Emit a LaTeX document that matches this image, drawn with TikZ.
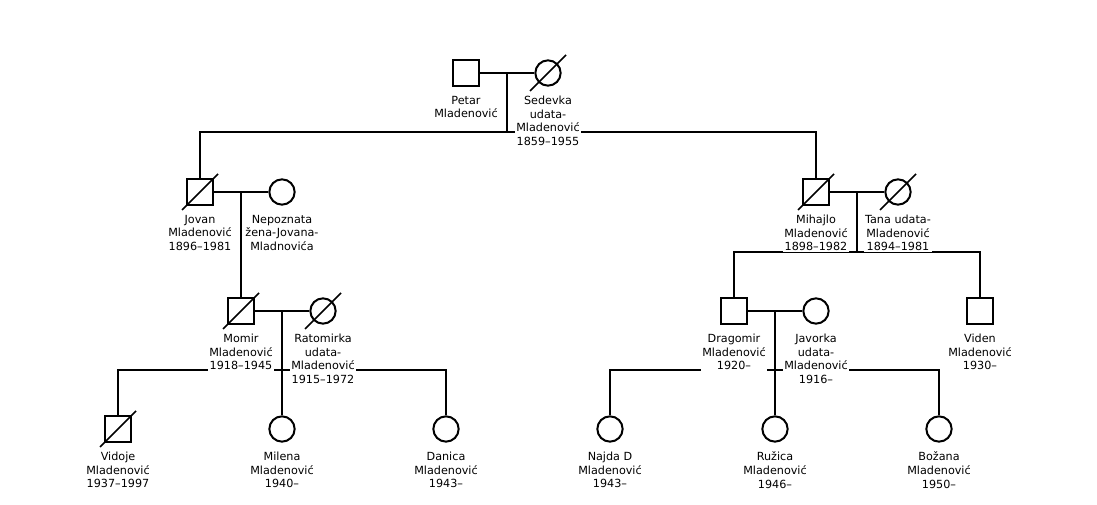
\documentclass[tikz,border=0pt]{standalone}
\usepackage{fontspec}
\setmainfont{DejaVu Sans}
\usetikzlibrary{positioning,backgrounds,calc}

\tikzset{
  male/.style={draw, rectangle, minimum size=19pt, inner sep=0pt, line width=1.5pt},
  female/.style={draw, circle, minimum size=19pt, inner sep=0pt, line width=1.5pt},
  who/.style={font=\fontsize{8.4}{10.2}\selectfont, align=center, fill=white, inner sep=1pt},
  line/.style={line width=1.5pt},
  rip/.style={line width=1.3pt},
}

\begin{document}
\begin{tikzpicture}[x=0.75pt,y=-0.75pt]
\useasboundingbox (0,0) rectangle (1097,505);

% generation 1
\node[male] (petar) at (466,73) {};
\node[female] (sedevka) at (548,73) {};
\node[who, below=5.8pt of petar] (petarL) {Petar\\Mladenović};
\node[who, below=5.8pt of sedevka] (sedevkaL) {Sedevka\\udata-\\Mladenović\\1859–1955};

% generation 2
\node[male] (jovan) at (200,192) {};
\node[female] (nepoznata) at (282,192) {};
\node[male] (mihajlo) at (816,192) {};
\node[female] (tana) at (898,192) {};
\node[who, below=5.8pt of jovan] (jovanL) {Jovan\\Mladenović\\1896–1981};
\node[who, below=5.8pt of nepoznata] (nepoznataL) {Nepoznata\\žena-Jovana-\\Mladnovića};
\node[who, below=5.8pt of mihajlo] (mihajloL) {Mihajlo\\Mladenović\\1898–1982};
\node[who, below=5.8pt of tana] (tanaL) {Tana udata-\\Mladenović\\1894–1981};

% generation 3
\node[male] (momir) at (241,311) {};
\node[female] (ratomirka) at (323,311) {};
\node[male] (dragomir) at (734,311) {};
\node[female] (javorka) at (816,311) {};
\node[male] (viden) at (980,311) {};
\node[who, below=5.8pt of momir] (momirL) {Momir\\Mladenović\\1918–1945};
\node[who, below=5.8pt of ratomirka] (ratomirkaL) {Ratomirka\\udata-\\Mladenović\\1915–1972};
\node[who, below=5.8pt of dragomir] (dragomirL) {Dragomir\\Mladenović\\1920–};
\node[who, below=5.8pt of javorka] (javorkaL) {Javorka\\udata-\\Mladenović\\1916–};
\node[who, below=5.8pt of viden] (videnL) {Viden\\Mladenović\\1930–};

% generation 4
\node[male] (vidoje) at (118,429) {};
\node[female] (milena) at (282,429) {};
\node[female] (danica) at (446,429) {};
\node[female] (najda) at (610,429) {};
\node[female] (ruzica) at (775,429) {};
\node[female] (bozana) at (939,429) {};
\node[who, below=5.8pt of vidoje] (vidojeL) {Vidoje\\Mladenović\\1937–1997};
\node[who, below=5.8pt of milena] (milenaL) {Milena\\Mladenović\\1940–};
\node[who, below=5.8pt of danica] (danicaL) {Danica\\Mladenović\\1943–};
\node[who, below=5.8pt of najda] (najdaL) {Najda D\\Mladenović\\1943–};
\node[who, below=5.8pt of ruzica] (ruzicaL) {Ružica\\Mladenović\\1946–};
\node[who, below=5.8pt of bozana] (bozanaL) {Božana\\Mladenović\\1950–};

% deceased
\draw[rip] ([shift={(-18,18)}]sedevka.center) -- ([shift={(18,-18)}]sedevka.center);
\draw[rip] ([shift={(-18,18)}]jovan.center) -- ([shift={(18,-18)}]jovan.center);
\draw[rip] ([shift={(-18,18)}]mihajlo.center) -- ([shift={(18,-18)}]mihajlo.center);
\draw[rip] ([shift={(-18,18)}]tana.center) -- ([shift={(18,-18)}]tana.center);
\draw[rip] ([shift={(-18,18)}]momir.center) -- ([shift={(18,-18)}]momir.center);
\draw[rip] ([shift={(-18,18)}]ratomirka.center) -- ([shift={(18,-18)}]ratomirka.center);
\draw[rip] ([shift={(-18,18)}]vidoje.center) -- ([shift={(18,-18)}]vidoje.center);

\begin{scope}[on background layer]
% Petar + Sedevka
\draw[line] (petar) -- (sedevka);
\coordinate (m1) at ($(petar)!0.5!(sedevka)$);
\coordinate (s1) at (0,132);
\draw[line] (m1) -- (m1 |- s1);
\draw[line] (jovan.north) -- (jovan |- s1) -- (mihajlo |- s1) -- (mihajlo.north);

% Jovan + Nepoznata
\draw[line] (jovan) -- (nepoznata);
\coordinate (m2) at ($(jovan)!0.5!(nepoznata)$);
\draw[line] (m2) -- (momir.north);

% Mihajlo + Tana
\draw[line] (mihajlo) -- (tana);
\coordinate (m3) at ($(mihajlo)!0.5!(tana)$);
\coordinate (s3) at (0,252);
\draw[line] (m3) -- (m3 |- s3);
\draw[line] (dragomir.north) -- (dragomir |- s3) -- (viden |- s3) -- (viden.north);

% Momir + Ratomirka
\draw[line] (momir) -- (ratomirka);
\coordinate (m4) at ($(momir)!0.5!(ratomirka)$);
\coordinate (s4) at (0,370);
\draw[line] (m4) -- (milena.north);
\draw[line] (vidoje.north) -- (vidoje |- s4) -- (danica |- s4) -- (danica.north);

% Dragomir + Javorka
\draw[line] (dragomir) -- (javorka);
\coordinate (m5) at ($(dragomir)!0.5!(javorka)$);
\draw[line] (m5) -- (ruzica.north);
\draw[line] (najda.north) -- (najda |- s4) -- (bozana |- s4) -- (bozana.north);
\end{scope}
\end{tikzpicture}
\end{document}
